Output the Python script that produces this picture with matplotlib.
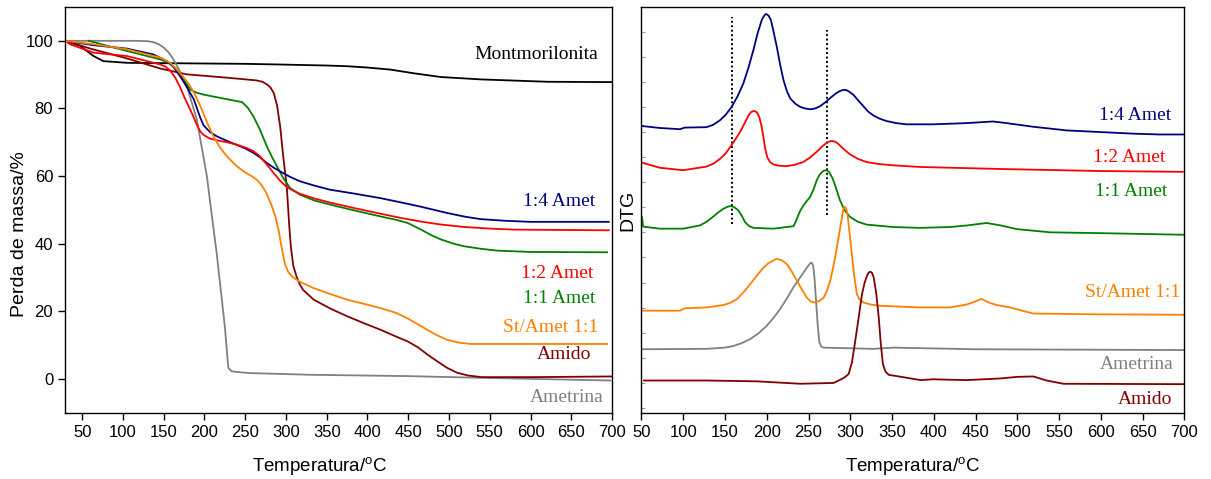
"""TGA / DTG das amostras de ametrina, amido e montmorilonita."""

import matplotlib

matplotlib.use("Agg")
import matplotlib.pyplot as plt
import numpy as np

SANS = ["Liberation Sans", "DejaVu Sans"]
SERIF = ["Liberation Serif", "DejaVu Serif"]

COLORS = {
    "Montmorilonita": "#000000",
    "1:4 Amet": "#000080",
    "1:2 Amet": "#FF0000",
    "1:1 Amet": "#008000",
    "St/Amet 1:1": "#FF8000",
    "Amido": "#800000",
    "Ametrina": "#808080",
}

# ---- TGA: perda de massa (%) x temperatura (°C) ----
tga_mont_t = [30, 47.5, 64, 76, 105, 150, 200, 250, 293, 350, 375, 400, 428, 457, 490, 539, 621, 700]
tga_mont_y = [100, 98.5, 95.5, 94.0, 93.5, 93.4, 93.3, 93.2, 93.0, 92.7, 92.5, 92.1, 91.5, 90.4, 89.3, 88.6, 87.9, 87.8]

tga_14_t = [30, 64, 105, 137, 154, 162, 170, 178, 187, 195, 199, 207, 215, 227, 239, 250, 260, 268, 276, 285, 293, 305,
            317, 335, 354, 385, 416, 440, 465, 498, 520, 539, 570, 600, 650, 696]
tga_14_y = [100, 98.7, 97.7, 96.0, 94.0, 92.3, 89.6, 86.5, 82.7, 77.2, 75.0, 73.0, 71.8, 70.5, 69.3, 68.2, 66.9, 65.6, 64.0,
            62.5, 61.4, 59.8, 58.5, 57.2, 56.0, 54.8, 53.5, 52.3, 51.0, 49.1, 48.0, 47.3, 46.8, 46.5, 46.5, 46.5]

tga_12_t = [30, 35, 64, 105, 146, 152, 158, 164, 170, 176, 182.5, 187, 191, 195, 199, 203, 207, 215, 228, 240, 252, 260,
            268, 276, 285, 293, 301, 309, 317, 335, 354, 385, 416, 440, 465, 490, 518, 550, 580, 696]
tga_12_y = [100, 99.0, 96.5, 95.5, 93.0, 92.4, 91.2, 89.2, 86.4, 83.0, 79.7, 77.3, 75.0, 73.2, 72.2, 71.6, 71.1, 70.6, 70.0,
            69.3, 68.3, 67.4, 65.9, 63.6, 60.9, 58.6, 56.8, 55.7, 54.8, 53.4, 52.2, 50.5, 48.9, 47.7, 46.6, 45.7, 45.0,
            44.5, 44.2, 44.0]

tga_11_t = [58, 105, 146, 158, 166, 174, 182.5, 190, 199, 220, 246, 253, 260, 268, 276.6, 283, 289, 296.5, 305, 317.5,
            335, 354, 385, 416, 435, 449, 465, 478, 490, 505, 518, 540, 559, 600, 694]
tga_11_y = [100, 97.0, 94.5, 93.3, 91.6, 88.8, 85.6, 84.7, 84.1, 83.1, 81.9, 80.3, 77.7, 73.8, 68.8, 65.6, 62.9, 59.5, 56.5,
            54.5, 52.8, 51.6, 49.8, 48.1, 47.1, 46.2, 44.3, 42.6, 41.3, 40.1, 39.3, 38.5, 38.0, 37.6, 37.5]

tga_st_t = [30, 64, 105, 146, 158, 166, 174, 182.5, 189, 195, 203, 211, 219, 227.5, 238, 248, 258, 264, 270, 276, 282,
            287, 291, 295, 299, 303, 308, 317, 334, 355, 375, 395, 416, 435, 449, 462, 474, 486, 498, 512, 527, 560, 694]
tga_st_y = [100, 99.0, 97.5, 95.0, 93.5, 91.6, 89.4, 86.6, 83.8, 80.7, 76.0, 71.8, 68.5, 65.9, 63.3, 61.4, 60.0, 59.0,
            57.4, 55.0, 51.6, 48.1, 44.0, 38.5, 33.8, 31.6, 30.2, 28.8, 26.9, 25.1, 23.5, 22.3, 21.0, 19.6, 18.0, 16.2,
            14.5, 12.9, 11.6, 10.8, 10.4, 10.4, 10.4]

tga_amido_t = [30, 60, 105, 146, 178, 228, 264, 271, 277, 281, 285, 289, 293, 297, 301, 304, 306, 309, 313, 317, 321,
               334, 355, 375, 395, 416, 435, 449, 462, 474, 486, 498, 510, 523, 540, 600, 700]
tga_amido_y = [100, 97.7, 94.8, 91.8, 90.1, 89.1, 88.3, 87.9, 87.1, 86.2, 84.6, 81.0, 74.5, 65.0, 57.0, 45.5, 39.2, 33.5,
               30.3, 28.0, 26.4, 23.5, 20.8, 18.6, 16.6, 14.6, 12.6, 11.2, 9.4, 7.2, 5.2, 3.3, 1.9, 1.1, 0.6, 0.6, 0.8]

tga_amet_t = [30, 117, 130, 137.5, 144, 150, 156, 162, 170, 178.5, 190.7, 203, 209, 215, 225, 229.3, 233.4, 245, 256, 329,
              450, 539, 698]
tga_amet_y = [100, 100, 99.9, 99.6, 99.0, 98.0, 96.6, 94.5, 91.0, 86.6, 76.7, 60.0, 48.5, 37.3, 15.6, 3.3, 2.3, 2.0, 1.8,
              1.3, 0.9, 0.4, -0.4]

# ---- DTG (unidades arbitrárias, curvas deslocadas) ----
dtg_14_t = [50, 72, 96, 102, 128, 136, 144, 151, 158, 165, 172, 178, 184, 189, 194, 197, 199, 202, 205, 208, 212, 216,
            220, 224, 228, 234, 240, 246, 252, 258, 264, 270, 276, 282, 287.5, 292, 295.6, 299, 303.6, 309, 315.5, 321,
            327.5, 335, 343.5, 355, 367, 399, 439, 471, 487, 519, 559, 599, 639, 670, 700]
dtg_14_y = [70.7, 70.2, 69.9, 70.3, 70.4, 71.0, 72.1, 73.5, 75.4, 78.0, 81.2, 85.0, 89.4, 93.5, 96.8, 97.9, 98.3, 97.9,
            96.8, 94.0, 90.2, 85.8, 82.0, 79.3, 77.5, 76.2, 75.4, 75.0, 74.8, 75.0, 75.6, 76.5, 77.6, 78.6, 79.3, 79.6,
            79.5, 79.1, 78.4, 77.1, 75.6, 74.3, 73.3, 72.5, 71.9, 71.4, 71.1, 71.1, 71.4, 71.8, 71.4, 70.5, 69.6, 69.2,
            68.8, 68.6, 68.6]

dtg_12_t = [50, 72, 100, 128, 136, 144, 151, 158, 163, 168, 173, 178, 181, 184.7, 188, 191, 193.5, 196, 198, 200.5, 204,
            208, 215, 223.5, 233, 243.5, 251, 259.5, 266, 271.5, 275, 278.5, 282, 285.5, 292, 299.6, 309, 319.5, 335,
            351.5, 383.3, 479, 599, 698]
dtg_12_y = [61.7, 60.4, 59.8, 60.7, 61.4, 62.6, 64.0, 66.0, 67.6, 69.2, 71.2, 73.2, 74.1, 74.4, 74.1, 72.9, 70.8, 68.0,
            65.2, 63.0, 61.8, 61.2, 60.9, 60.8, 61.1, 61.8, 62.8, 64.3, 65.6, 66.5, 66.9, 67.0, 66.8, 66.3, 65.0, 63.7,
            62.6, 61.8, 61.3, 61.0, 60.6, 60.1, 59.6, 59.4]

dtg_11_t = [50, 50.5, 52, 72, 100, 120, 128, 136, 142, 148, 153, 156.8, 161, 166, 170, 174, 179, 184, 208, 231.9, 234,
            236.7, 240, 243.9, 247, 251.9, 256, 259.8, 263, 265.8, 268.5, 271.7, 274.5, 279, 283, 287.6, 293, 299.6, 309,
            319.5, 351.5, 383.3, 419, 440, 463, 480, 499, 539, 599, 700]
dtg_11_y = [48.4, 48.4, 45.9, 45.4, 45.4, 46.2, 47.1, 48.4, 49.4, 50.3, 50.8, 51.0, 50.7, 49.9, 48.6, 47.0, 46.0, 45.6,
            45.4, 46.0, 46.8, 48.2, 49.8, 51.1, 52.0, 53.2, 55.1, 57.3, 58.6, 59.3, 59.7, 59.8, 59.4, 57.7, 55.3, 52.4,
            50.0, 48.3, 47.1, 46.4, 45.8, 45.6, 45.8, 46.2, 46.8, 46.2, 45.3, 44.5, 44.3, 43.9]

dtg_st_t = [50, 96, 102, 128, 148, 156, 164, 172, 180, 188, 196, 202, 208, 211, 214, 218, 224, 230, 236, 242, 248, 253,
            258, 263, 268, 272, 276, 280, 284, 287, 290, 291.5, 293, 295, 296.6, 299, 301.8, 304.5, 307.8, 311, 315.8,
            325, 335.8, 383.3, 419, 439, 450, 457, 466, 475, 491, 519, 599, 700]
dtg_st_y = [25.2, 25.2, 25.8, 26.0, 26.6, 27.1, 28.0, 29.7, 31.7, 33.8, 35.8, 36.9, 37.6, 37.9, 37.9, 37.6, 36.7, 34.8,
            32.6, 30.4, 28.4, 27.4, 27.2, 27.6, 28.4, 30.1, 32.6, 36.4, 40.8, 44.6, 48.2, 50.0, 50.8, 50.4, 49.0, 44.5,
            39.2, 34.0, 29.3, 28.0, 27.2, 26.7, 26.4, 26.0, 26.0, 26.7, 27.5, 28.1, 27.2, 26.6, 26.0, 24.5, 24.3, 24.2]

dtg_amet_t = [50, 128, 150, 160, 170, 180, 190, 200, 208, 216, 224, 232, 238, 244, 248, 252, 254, 255.5, 257, 259, 261,
              263, 265, 268, 327.5, 351.5, 450, 700]
dtg_amet_y = [15.7, 15.8, 16.1, 16.5, 17.2, 18.2, 19.6, 21.5, 23.4, 25.6, 28.2, 31.0, 32.8, 34.6, 35.8, 36.9, 37.0, 36.3,
              33.5, 27.7, 21.5, 17.4, 16.4, 16.1, 15.8, 16.1, 15.7, 15.5]

dtg_amido_t = [53, 128, 188, 240, 280, 286, 290, 294, 298, 302, 306, 310, 314, 317, 320, 322, 324, 326, 328, 331, 334,
               336.5, 339, 342, 346, 364, 384, 399, 439, 479, 500, 519, 535, 555, 700]
dtg_amido_y = [8.0, 8.0, 7.8, 7.2, 7.4, 8.0, 8.4, 8.9, 9.6, 12.5, 17.9, 23.5, 29.3, 32.0, 33.8, 34.6, 34.8, 34.5, 33.4,
               29.5, 23.6, 17.0, 12.1, 10.2, 9.4, 8.8, 8.1, 8.3, 8.1, 8.5, 8.9, 9.0, 8.0, 7.2, 7.1]

# linhas pontilhadas de referência nos picos
dtg_marks_t = [158.7, 272.5]
dtg_marks_lo = [46.6, 48.7]
dtg_marks_hi = [97.6, 94.3]

TGA_SERIES = [
    ("Montmorilonita", tga_mont_t, tga_mont_y),
    ("Ametrina", tga_amet_t, tga_amet_y),
    ("Amido", tga_amido_t, tga_amido_y),
    ("1:1 Amet", tga_11_t, tga_11_y),
    ("1:4 Amet", tga_14_t, tga_14_y),
    ("1:2 Amet", tga_12_t, tga_12_y),
    ("St/Amet 1:1", tga_st_t, tga_st_y),
]
TGA_LABELS = [
    ("Montmorilonita", 683, 96.0),
    ("1:4 Amet", 680, 52.4),
    ("1:2 Amet", 677, 31.1),
    ("1:1 Amet", 680, 23.7),
    ("St/Amet 1:1", 683, 15.4),
    ("Amido", 675, 7.4),
    ("Ametrina", 690, -5.3),
]

DTG_SERIES = [
    ("1:4 Amet", dtg_14_t, dtg_14_y),
    ("1:2 Amet", dtg_12_t, dtg_12_y),
    ("1:1 Amet", dtg_11_t, dtg_11_y),
    ("Ametrina", dtg_amet_t, dtg_amet_y),
    ("St/Amet 1:1", dtg_st_t, dtg_st_y),
    ("Amido", dtg_amido_t, dtg_amido_y),
]
DTG_LABELS = [
    ("1:4 Amet", 684.7, 73.3),
    ("1:2 Amet", 676.6, 62.9),
    ("1:1 Amet", 679.4, 54.6),
    ("St/Amet 1:1", 694.6, 29.7),
    ("Ametrina", 686.6, 11.85),
    ("Amido", 684.7, 3.4),
]


def _style_axis(ax, xlabel_x):
    for spine in ax.spines.values():
        spine.set_linewidth(1.0)
    ax.tick_params(axis="x", direction="out", length=5, width=1.0, labelsize=12, pad=4)
    for lab in ax.get_xticklabels() + ax.get_yticklabels():
        lab.set_family(SANS)
    ax.set_xlabel("Temperatura/$^{\\mathregular{o}}$C", fontsize=13.5, family=SANS)
    ax.xaxis.set_label_coords(xlabel_x, -0.105)


def plot_tga(ax):
    for name, t, y in TGA_SERIES:
        ax.plot(t, y, color=COLORS[name], linewidth=1.3)
    for name, x, y in TGA_LABELS:
        ax.text(x, y, name, color=COLORS[name], fontsize=14, family=SERIF, ha="right", va="center")

    ax.set_xlim(29, 700)
    ax.set_ylim(-10, 110)
    ax.set_xticks(np.arange(50, 701, 50))
    ax.set_yticks(np.arange(0, 101, 20))
    ax.tick_params(axis="y", direction="out", length=5, width=1.0, labelsize=12)
    ax.set_ylabel("Perda de massa/%", fontsize=14, family=SANS)
    ax.yaxis.set_label_coords(-0.068, 0.44)
    _style_axis(ax, 0.465)


def plot_dtg(ax):
    for t, lo, hi in zip(dtg_marks_t, dtg_marks_lo, dtg_marks_hi):
        ax.plot([t, t], [lo, hi], color="black", linewidth=1.4, linestyle=(0, (1, 1.3)))
    for name, t, y in DTG_SERIES:
        ax.plot(t, y, color=COLORS[name], linewidth=1.3)
    for name, x, y in DTG_LABELS:
        ax.text(x, y, name, color=COLORS[name], fontsize=14, family=SERIF, ha="right", va="center")

    ax.set_xlim(50, 700)
    ax.set_ylim(0, 100)
    ax.set_xticks(np.arange(50, 701, 50))
    ax.set_yticks(100 - 6.17 * np.arange(1, 17))
    ax.tick_params(axis="y", direction="in", length=3, width=0.8, color="#999999", labelleft=False)
    ax.set_ylabel("DTG", fontsize=14, family=SANS, labelpad=4)
    _style_axis(ax, 0.5)


fig = plt.figure(figsize=(12.11, 4.79), dpi=100)
ax_tga = fig.add_axes([0.0537, 0.1378, 0.4517, 0.8476])
ax_dtg = fig.add_axes([0.5297, 0.1378, 0.4484, 0.8476])
plot_tga(ax_tga)
plot_dtg(ax_dtg)
fig.savefig("out.png", dpi=100)
